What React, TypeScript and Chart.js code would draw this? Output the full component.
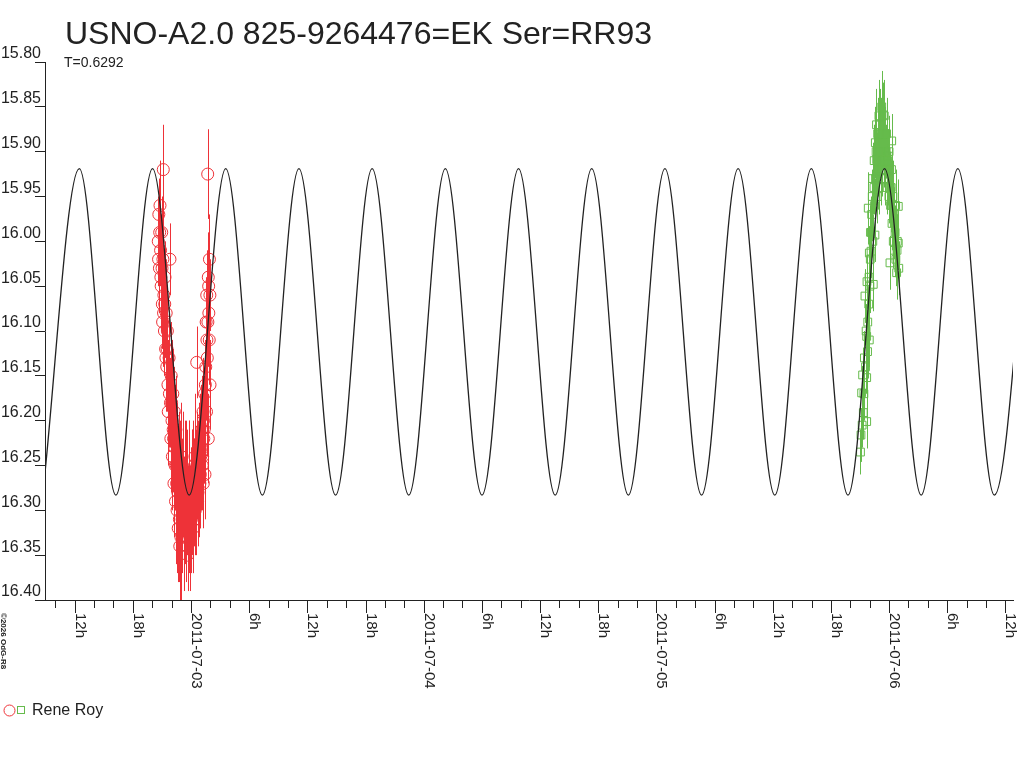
import React, { useEffect, useRef } from "react";
import { Chart, registerables } from "chart.js";

Chart.register(...registerables);

const FONT = "'Liberation Sans', Arial, sans-serif";
const INK = "#222222";
const RED = "#ee3238";
const GREEN = "#66bb4c";

const TITLE = "USNO-A2.0 825-9264476=EK Ser=RR93";
const PERIOD_LABEL = "T=0.6292";
const OBSERVER = "Rene Roy";
const CREDIT = "©2026 OdG-R8";

// x values are hours since 2011-07-03 00:00
const X_MIN = -15.06;
const X_MAX = 84.78;
const Y_MIN = 15.8;
const Y_MAX = 16.4;

const CURVE_HOURS = [
  -15.3, -11.52, -7.75, -3.97, -0.19, 3.58, 7.36, 11.13, 14.91, 18.68, 22.46, 26.23, 30.01, 33.78,
  37.56, 41.33, 45.11, 48.88, 52.66, 56.43, 60.21, 63.98, 67.76, 71.53, 75.31, 79.09, 82.86, 86.64,
];
const CURVE_MAGS = [
  16.283, 15.919, 16.283, 15.919, 16.283, 15.919, 16.283, 15.919, 16.283, 15.919, 16.283, 15.919,
  16.283, 15.919, 16.283, 15.919, 16.283, 15.919, 16.283, 15.919, 16.283, 15.919, 16.283, 15.919,
  16.283, 15.919, 16.283, 15.919,
];

// Rene Roy, first night (circles)
const RED_HOURS = [
  -3.38, -3.32, -3.26, -3.2, -3.14, -3.08, -3.02, -2.96, -2.9, -2.86, -2.8, -2.74, -2.68, -2.62,
  -2.56, -2.5, -2.44, -2.38, -2.26, -2.17, -2.12, -2.04, -1.96, -1.88, -1.8, -1.72, -1.64, -1.56,
  -1.48, -1.4, -1.32, -1.24, -1.16, -1.08, -1.0, -0.92, -0.84, -0.76, -0.68, -0.6, -0.52, -0.44,
  -0.36, -0.28, -0.2, -0.12, -0.04, 0.04, 0.12, 0.2, 0.28, 0.36, 0.44, 0.52, 0.59, 0.6, 0.68, 0.76,
  0.84, 0.92, 1.0, 1.08, 1.16, 1.24, 1.27, 1.32, 1.4, 1.44, 1.48, 1.56, 1.6, 1.62, 1.68, 1.72, 1.78,
  1.78, 1.84, 1.9, 1.95, 1.96,
  -3.35, -3.23, -3.11, -2.99, -2.93, -2.83, -2.71, -2.59, -2.47, -2.35, -2.23, -2.08, -2.0, -1.92,
  -1.84, -1.76, -1.68, -1.6, -1.52, -1.44, -1.36, -1.28, -1.2, -1.12, -1.04, -0.96, -0.88, -0.8,
  -0.72, -0.64, -0.56, -0.48, -0.4, -0.32, -0.24, -0.16, -0.08, 0.0, 0.08, 0.16, 0.24, 0.32, 0.4,
  0.48, 0.56, 0.64, 0.72, 0.8, 0.88, 0.96, 1.04, 1.12, 1.2, 1.28, 1.36, 1.52, 1.64, 1.74, 1.82, 1.88,
];
const RED_MAGS = [
  16.0, 15.97, 16.03, 15.96, 16.01, 16.05, 15.99, 16.07, 16.02, 15.92, 16.06, 16.1, 16.04, 16.12,
  16.08, 16.14, 16.1, 16.16, 16.13, 16.02, 16.18, 16.15, 16.2, 16.17, 16.22, 16.19, 16.25, 16.21,
  16.27, 16.23, 16.32, 16.25, 16.34, 16.28, 16.24, 16.31, 16.27, 16.33, 16.29, 16.26, 16.32, 16.28,
  16.35, 16.3, 16.26, 16.33, 16.29, 16.31, 16.27, 16.32, 16.28, 16.25, 16.3, 16.28, 16.135, 16.25,
  16.29, 16.26, 16.23, 16.27, 16.24, 16.21, 16.25, 16.19, 16.27, 16.22, 16.17, 16.26, 16.16, 16.09,
  16.19, 16.06, 16.13, 15.925, 16.22, 16.04, 16.08, 16.02, 16.06, 16.16,
  16.02, 15.99, 16.04, 16.03, 16.09, 16.08, 16.07, 16.13, 16.12, 16.19, 16.17, 16.22, 16.18, 16.24,
  16.21, 16.27, 16.23, 16.29, 16.25, 16.3, 16.28, 16.26, 16.31, 16.27, 16.33, 16.29, 16.3, 16.26,
  16.32, 16.29, 16.27, 16.31, 16.28, 16.33, 16.3, 16.27, 16.32, 16.3, 16.28, 16.3, 16.27, 16.28,
  16.24, 16.27, 16.28, 16.25, 16.28, 16.26, 16.23, 16.26, 16.23, 16.21, 16.24, 16.2, 16.21, 16.14,
  16.11, 16.09, 16.05, 16.11,
];
const RED_ERRS = [
  0.05, 0.04, 0.05, 0.05, 0.04, 0.05, 0.04, 0.05, 0.06, 0.05, 0.05, 0.05, 0.04, 0.05, 0.06, 0.05,
  0.05, 0.05, 0.05, 0.04, 0.05, 0.06, 0.05, 0.05, 0.06, 0.05, 0.05, 0.06, 0.05, 0.05, 0.06, 0.05,
  0.06, 0.05, 0.06, 0.05, 0.06, 0.05, 0.05, 0.06, 0.05, 0.06, 0.04, 0.05, 0.06, 0.05, 0.06, 0.05,
  0.06, 0.05, 0.06, 0.05, 0.05, 0.06, 0.04, 0.05, 0.05, 0.06, 0.05, 0.05, 0.06, 0.05, 0.05, 0.06,
  0.05, 0.05, 0.05, 0.05, 0.05, 0.05, 0.05, 0.05, 0.04, 0.05, 0.05, 0.05, 0.04, 0.05, 0.04, 0.05,
  0.06, 0.06, 0.06, 0.06, 0.05, 0.06, 0.06, 0.06, 0.06, 0.06, 0.06, 0.06, 0.07, 0.06, 0.07, 0.06,
  0.07, 0.07, 0.07, 0.07, 0.07, 0.07, 0.07, 0.07, 0.07, 0.07, 0.07, 0.07, 0.07, 0.07, 0.07, 0.07,
  0.07, 0.06, 0.07, 0.07, 0.07, 0.07, 0.07, 0.07, 0.07, 0.06, 0.07, 0.06, 0.07, 0.06, 0.06, 0.07,
  0.06, 0.06, 0.06, 0.06, 0.06, 0.06, 0.06, 0.06, 0.05, 0.05, 0.05, 0.05,
];

// Rene Roy, second night (squares)
const GREEN_HOURS = [
  69.05, 69.1, 69.17, 69.22, 69.27, 69.34, 69.4, 69.45, 69.51, 69.57, 69.63, 69.69, 69.69, 69.69,
  69.72, 69.78, 69.85, 69.9, 69.96, 69.96, 70.02, 70.08, 70.14, 70.2, 70.26, 70.32, 70.37, 70.44,
  70.5, 70.54, 70.6, 70.66, 70.72, 70.78, 70.85, 70.92, 70.98, 71.05, 71.12, 71.2, 71.27, 71.34,
  71.4, 71.47, 71.55, 71.62, 71.7, 71.77, 71.84, 71.92, 71.98, 72.04, 72.09, 72.15, 72.22, 72.27,
  72.3, 72.36, 72.43, 72.5, 72.56, 72.62, 72.7, 72.78, 72.85, 72.95, 72.95, 73.0,
  69.8, 69.93, 70.06, 70.18, 70.3, 70.46, 70.58, 70.7, 70.82, 70.95, 71.1, 71.24, 71.36, 71.5, 71.6,
  71.74, 71.88, 72.0, 72.12, 72.25, 72.4, 72.55, 72.68, 72.82,
];
const GREEN_MAGS = [
  16.235, 16.216, 16.169, 16.205, 16.149, 16.191, 16.17, 16.13, 16.061, 16.14, 16.1, 16.106, 16.152,
  16.201, 16.045, 16.123, 15.963, 16.07, 16.11, 16.013, 16.05, 15.99, 16.011, 15.97, 15.95, 16.0,
  16.048, 15.94, 15.96, 15.993, 15.93, 15.9, 15.909, 15.95, 15.92, 15.89, 15.94, 15.9, 15.93, 15.88,
  15.92, 15.89, 15.859, 15.91, 15.88, 15.93, 15.9, 15.94, 15.91, 15.905, 15.95, 15.93, 16.024, 15.96,
  15.94, 15.888, 15.98, 15.96, 16.0, 15.97, 16.01, 15.99, 16.02, 16.035, 16.0, 15.961, 16.002, 16.03,
  16.09, 16.04, 16.02, 15.99, 15.93, 15.91, 15.89, 15.87, 15.88, 15.86, 15.87, 15.85, 15.88, 15.86,
  15.9, 15.88, 15.92, 15.9, 15.94, 15.92, 15.95, 15.98, 15.96, 16.01,
];
const GREEN_ERRS = [
  0.025, 0.03, 0.03, 0.025, 0.03, 0.03, 0.03, 0.03, 0.03, 0.03, 0.03, 0.03, 0.03, 0.03, 0.03, 0.03,
  0.04, 0.03, 0.03, 0.03, 0.03, 0.03, 0.03, 0.03, 0.03, 0.03, 0.03, 0.03, 0.03, 0.03, 0.03, 0.04,
  0.03, 0.03, 0.03, 0.04, 0.03, 0.03, 0.03, 0.04, 0.03, 0.03, 0.036, 0.03, 0.03, 0.03, 0.03, 0.03,
  0.03, 0.03, 0.03, 0.03, 0.03, 0.03, 0.03, 0.03, 0.03, 0.03, 0.03, 0.03, 0.03, 0.03, 0.03, 0.03,
  0.03, 0.03, 0.03, 0.03,
  0.04, 0.04, 0.04, 0.04, 0.04, 0.04, 0.04, 0.04, 0.04, 0.04, 0.04, 0.04, 0.04, 0.04, 0.04, 0.04,
  0.04, 0.04, 0.04, 0.04, 0.04, 0.04, 0.04, 0.04,
];

const toPoints = (xs: number[], ys: number[]) => xs.map((x, i) => ({ x, y: ys[i] }));

const tickLabel = (v: number) => {
  if (v % 24 === 0) return `2011-07-${String(3 + v / 24).padStart(2, "0")}`;
  if (v % 6 === 0) return `${((v % 24) + 24) % 24}h`;
  return "";
};

const decorations = {
  id: "decorations",
  beforeDatasetsDraw(chart: any) {
    const { ctx, chartArea, scales } = chart;
    ctx.save();
    ctx.beginPath();
    ctx.rect(chartArea.left, chartArea.top, chartArea.right - chartArea.left, chartArea.bottom - chartArea.top);
    ctx.clip();
    ctx.lineWidth = 1;
    chart.data.datasets.forEach((ds: any) => {
      if (!ds.errs) return;
      ctx.strokeStyle = ds.borderColor;
      ctx.beginPath();
      ds.data.forEach((p: any, i: number) => {
        const x = Math.round(scales.x.getPixelForValue(p.x)) + 0.5;
        ctx.moveTo(x, scales.y.getPixelForValue(p.y - ds.errs[i]));
        ctx.lineTo(x, scales.y.getPixelForValue(p.y + ds.errs[i]));
      });
      ctx.stroke();
    });
    ctx.restore();
  },
  afterDraw(chart: any) {
    const { ctx, chartArea, scales } = chart;
    ctx.save();
    ctx.fillStyle = INK;
    ctx.strokeStyle = INK;
    ctx.textAlign = "left";
    ctx.textBaseline = "alphabetic";

    ctx.font = `32px ${FONT}`;
    ctx.fillText(TITLE, 65, 44);
    ctx.font = `14px ${FONT}`;
    ctx.fillText(PERIOD_LABEL, 64, 67);

    // x axis ticks and rotated labels
    const bottom = chartArea.bottom;
    ctx.lineWidth = 1;
    scales.x.ticks.forEach((t: any) => {
      const v = Math.round(t.value);
      const px = Math.round(scales.x.getPixelForValue(v)) + 0.5;
      const label = tickLabel(v);
      ctx.beginPath();
      ctx.moveTo(px, bottom);
      ctx.lineTo(px, bottom + (label ? 13 : 8));
      ctx.stroke();
      if (label) {
        ctx.save();
        ctx.translate(px, bottom + 13);
        ctx.rotate(Math.PI / 2);
        ctx.font = `15px ${FONT}`;
        ctx.fillText(label, 0, 0);
        ctx.restore();
      }
    });

    ctx.save();
    ctx.translate(1, 613);
    ctx.rotate(Math.PI / 2);
    ctx.font = `bold 8px ${FONT}`;
    ctx.fillText(CREDIT, 0, 0);
    ctx.restore();

    // legend
    ctx.strokeStyle = RED;
    ctx.beginPath();
    ctx.arc(9.5, 710.5, 5.5, 0, Math.PI * 2);
    ctx.stroke();
    ctx.strokeStyle = GREEN;
    ctx.strokeRect(17.5, 706.5, 7, 7);
    ctx.font = `16px ${FONT}`;
    ctx.fillText(OBSERVER, 32, 715);
    ctx.restore();
  },
};

const LightCurve: React.FC = () => {
  const canvasRef = useRef<HTMLCanvasElement>(null);

  useEffect(() => {
    if (!canvasRef.current) return;
    const chart = new Chart(canvasRef.current, {
      type: "scatter",
      data: {
        datasets: [
          {
            type: "line",
            label: "fit",
            data: toPoints(CURVE_HOURS, CURVE_MAGS),
            borderColor: INK,
            borderWidth: 1.3,
            pointRadius: 0,
            showLine: true,
            cubicInterpolationMode: "monotone",
          },
          {
            label: OBSERVER,
            data: toPoints(GREEN_HOURS, GREEN_MAGS),
            errs: GREEN_ERRS,
            borderColor: GREEN,
            backgroundColor: "rgba(0,0,0,0)",
            pointStyle: "rect",
            pointRadius: 5.5,
            pointBorderWidth: 1,
          } as any,
          {
            label: OBSERVER,
            data: toPoints(RED_HOURS, RED_MAGS),
            errs: RED_ERRS,
            borderColor: RED,
            backgroundColor: "rgba(0,0,0,0)",
            pointStyle: "circle",
            pointRadius: 6,
            pointBorderWidth: 1,
          } as any,
        ],
      },
      options: {
        animation: false,
        responsive: false,
        devicePixelRatio: 1,
        events: [],
        layout: { padding: { top: 62, right: 11, left: 0, bottom: 0 } },
        plugins: { legend: { display: false }, tooltip: { enabled: false } },
        scales: {
          x: {
            type: "linear",
            min: X_MIN,
            max: X_MAX,
            afterFit: (s: any) => {
              s.height = 168;
            },
            grid: { display: true, drawOnChartArea: false, drawTicks: false },
            border: { display: true, color: INK, width: 1 },
            ticks: { display: false, stepSize: 2, includeBounds: false, autoSkip: false },
          },
          y: {
            type: "linear",
            reverse: true,
            min: Y_MIN,
            max: Y_MAX,
            afterFit: (s: any) => {
              s.width = 45;
            },
            grid: { display: true, drawOnChartArea: false, drawTicks: true, tickLength: 10, color: INK },
            border: { display: true, color: INK, width: 1 },
            ticks: {
              stepSize: 0.05,
              padding: -6,
              labelOffset: -8,
              color: INK,
              autoSkip: false,
              font: { family: FONT, size: 16 },
              callback: (v: any) => Number(v).toFixed(2),
            },
          },
        },
      },
      plugins: [decorations],
    });
    return () => chart.destroy();
  }, []);

  return (
    <div style={{ position: "absolute", left: 0, top: 0, width: 1024, height: 768, background: "#fff" }}>
      <canvas ref={canvasRef} width={1024} height={768} />
    </div>
  );
};

export default function App() {
  return <LightCurve />;
}
